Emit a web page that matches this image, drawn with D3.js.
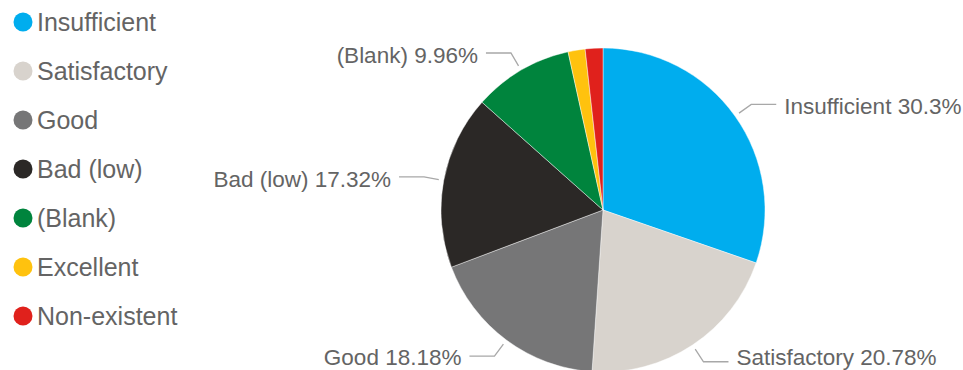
<!DOCTYPE html>
<html>
<head>
<meta charset="utf-8">
<script src="https://cdn.jsdelivr.net/npm/d3@7"></script>
<style>
  html, body { margin: 0; padding: 0; background: #fff; }
  svg { display: block; font-family: "Liberation Sans", Arial, sans-serif; }
</style>
</head>
<body>
<svg id="chart" width="963" height="370"></svg>
<script>
// Rating categories, in drawing order (clockwise from 12 o'clock)
const categories = ["Insufficient", "Satisfactory", "Good", "Bad (low)", "(Blank)", "Excellent", "Non-existent"];
// Share of each rating, percent
const shares = [30.3, 20.78, 18.18, 17.32, 9.96, 1.70, 1.76];
// Slice colours
const colors = ["#00ADEE", "#D8D3CD", "#767677", "#2B2826", "#00843D", "#FFC20E", "#E0211C"];
// Which slices carry an outside label
const labelled = ["Insufficient", "Satisfactory", "Good", "Bad (low)", "(Blank)"];

const data = categories.map((c, i) => ({ name: c, value: shares[i] }));

const svg = d3.select("#chart");
const W = 963, H = 370;
const cx = 603, cy = 210, R = 162;

const color = d3.scaleOrdinal().domain(categories).range(colors);

const pie = d3.pie().value(d => d.value).sort(null);
const arcs = pie(data);
const arc = d3.arc().innerRadius(0).outerRadius(R);

const g = svg.append("g").attr("transform", `translate(${cx},${cy})`);

g.selectAll("path.slice")
  .data(arcs)
  .join("path")
  .attr("class", "slice")
  .attr("d", arc)
  .attr("fill", d => color(d.data.name))
  .attr("stroke", "rgba(255,255,255,0.55)")
  .attr("stroke-width", 0.8);

// Leader lines and labels
const startArc = d3.arc().innerRadius(R + 5).outerRadius(R + 5);
const elbowArc = d3.arc().innerRadius(R + 20).outerRadius(R + 20);
const run = 25, gap = 8, labelSize = 22.5;
const fmt = v => (+v.toFixed(2)).toString();

arcs.filter(d => labelled.includes(d.data.name)).forEach(d => {
  const mid = (d.startAngle + d.endAngle) / 2;
  const right = mid < Math.PI;
  const p0 = startArc.centroid(d);
  const p1 = elbowArc.centroid(d);
  const p2 = [p1[0] + (right ? run : -run), p1[1]];
  g.append("polyline")
    .attr("points", [p0, p1, p2].map(p => p.join(",")).join(" "))
    .attr("fill", "none")
    .attr("stroke", "#A8A8A8")
    .attr("stroke-width", 1.3);
  // keep descenders inside the canvas for labels near the bottom edge
  const baseline = Math.min(p2[1] + 10, H - cy - 5.5);
  g.append("text")
    .attr("x", p2[0] + (right ? gap : -gap))
    .attr("y", baseline)
    .attr("text-anchor", right ? "start" : "end")
    .attr("font-size", labelSize)
    .attr("fill", "#646464")
    .text(`${d.data.name} ${fmt(d.data.value)}%`);
});

// Legend
const legend = svg.append("g");
const rowY = d3.scalePoint().domain(categories).range([22, 316]);
const rows = legend.selectAll("g.row")
  .data(categories)
  .join("g")
  .attr("class", "row")
  .attr("transform", d => `translate(0,${rowY(d)})`);
rows.append("circle")
  .attr("cx", 23)
  .attr("cy", 0)
  .attr("r", 9.5)
  .attr("fill", d => color(d));
rows.append("text")
  .attr("x", 37)
  .attr("y", 8.5)
  .attr("font-size", 25)
  .attr("fill", "#646464")
  .text(d => d);
</script>
</body>
</html>
